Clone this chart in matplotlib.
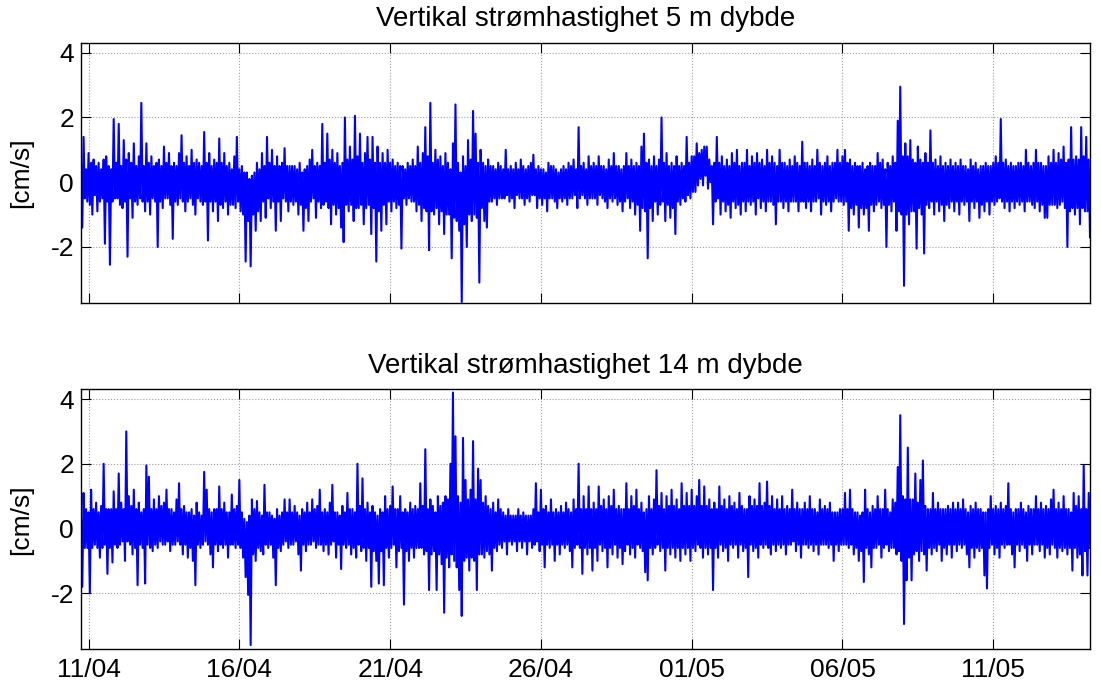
import numpy as np
import pandas as pd
import matplotlib
matplotlib.use('Agg')
import matplotlib.pyplot as plt
import matplotlib.dates as mdates

matplotlib.rcParams['font.family'] = ['Liberation Sans', 'DejaVu Sans']
matplotlib.rcParams['font.size'] = 19
matplotlib.rcParams['axes.unicode_minus'] = False

# vertikal strømhastighet [cm/s], timesverdier fra 10/04 18:00 (en rad = ett døgn)
v5 = [
    0.5, -1.4, 1.4, -0.5, 0.4, -0.6, 0.9, -0.7, 0.6, -1.0, 0.7, -0.4, 0.5, -0.9, 0.6, -0.6, 0.4, -0.5, 0.7, -1.9, 0.8, -0.6, 0.5, -2.55,
    0.4, -0.6, 1.95, -0.5, 0.6, -0.5, 1.8, -0.7, 0.5, -0.8, 1.3, -0.6, 0.7, -2.3, 0.9, -0.5, 0.6, -1.1, 1.2, -0.6, 0.5, -0.7, 0.8, -0.5,
    2.45, -0.6, 0.5, -0.9, 1.2, -0.6, 0.6, -1.0, 0.8, -0.5, 0.5, -0.6, 0.6, -2.0, 0.7, -0.6, 0.5, -0.8, 1.1, -0.5, 0.6, -0.5, 0.9, -0.7,
    0.5, -1.75, 0.6, -0.6, 0.5, -0.7, 0.9, -0.5, 1.45, -0.6, 0.6, -0.9, 0.8, -0.6, 0.5, -0.5, 1.0, -0.7, 0.6, -1.0, 0.7, -0.5, 0.6, -0.6,
    0.5, -0.7, 1.55, -0.6, 0.6, -1.8, 0.9, -0.6, 0.5, -0.9, 0.7, -0.6, 0.6, -1.2, 1.35, -0.7, 0.6, -0.8, 0.9, -0.6, 0.5, -1.0, 0.6, -0.7,
    0.4, -0.7, 0.8, -0.8, 1.4, -0.6, 0.4, -0.9, 0.5, -1.0, 0.3, -2.45, 0.3, -1.2, 0.1, -2.6, 0.2, -1.0, 0.3, -1.5, 0.6, -0.9, 0.4, -1.2,
    0.9, -0.6, 0.5, -1.1, 1.4, -0.5, 0.6, -0.8, 1.0, -0.6, 0.5, -1.5, 0.8, -0.6, 0.5, -1.2, 0.6, -0.5, 1.05, -0.6, 0.5, -0.9, 0.5, -0.6,
    0.5, -0.7, 0.5, -0.6, 0.4, -1.0, 0.6, -0.7, 0.3, -1.5, 0.4, -0.8, 0.5, -1.2, 0.7, -0.6, 1.0, -0.5, 0.5, -1.1, 0.6, -0.6, 0.5, -0.8,
    1.8, -0.7, 0.6, -0.6, 1.5, -0.8, 0.7, -1.3, 1.0, -0.7, 0.6, -1.0, 0.9, -0.8, 0.5, -1.4, 0.6, -1.85, 2.0, -0.7, 0.7, -0.9, 1.1, -0.7,
    0.7, -1.2, 2.05, -0.8, 0.8, -0.8, 1.5, -0.7, 0.6, -1.3, 0.9, -0.8, 1.4, -0.7, 0.7, -1.6, 1.4, -0.8, 0.6, -2.45, 1.1, -0.9, 0.6, -1.5,
    0.9, -0.7, 0.6, -1.3, 1.0, -0.6, 0.6, -0.9, 0.7, -0.6, 0.5, -0.8, 0.6, -0.7, 0.5, -2.05, 0.5, -0.5, 0.4, -0.7, 0.6, -0.5, 0.5, -0.6,
    0.7, -0.6, 0.5, -0.9, 1.1, -0.7, 0.6, -1.2, 0.9, -0.8, 1.7, -0.9, 0.8, -2.1, 2.45, -0.9, 0.6, -1.0, 1.0, -0.8, 0.7, -1.3, 0.8, -0.9,
    0.5, -1.6, 0.9, -1.0, 0.6, -1.0, 0.4, -2.35, 1.2, -1.1, 2.4, -1.2, 0.6, -1.5, 0.3, -3.7, 0.8, -1.3, 0.5, -2.0, 1.3, -1.0, 0.7, -1.2,
    2.2, -1.0, 1.5, -1.1, 0.6, -3.1, 1.0, -0.8, 0.6, -1.2, 0.5, -1.4, 0.7, -0.6, 0.5, -0.6, 0.5, -0.5, 0.4, -0.7, 0.6, -0.5, 0.5, -0.5,
    0.4, -0.5, 1.0, -0.4, 0.4, -0.6, 0.5, -0.5, 0.4, -0.8, 0.6, -0.4, 0.4, -0.5, 0.7, -0.5, 0.5, -0.7, 0.4, -0.5, 0.5, -0.6, 0.6, -0.4,
    0.85, -0.4, 0.4, -0.8, 0.5, -0.5, 0.4, -0.7, 0.4, -0.5, 0.3, -0.9, 0.6, -0.5, 0.5, -0.5, 0.5, -0.6, 0.4, -0.8, 0.3, -0.5, 0.4, -0.6,
    0.5, -0.5, 0.4, -0.7, 0.6, -0.5, 0.5, -0.5, 0.7, -0.4, 0.4, -0.8, 1.7, -0.5, 0.5, -0.4, 0.6, -0.5, 0.4, -0.7, 0.8, -0.5, 0.5, -0.5,
    0.6, -0.5, 0.5, -0.7, 0.8, -0.4, 0.5, -0.5, 0.5, -0.6, 0.4, -0.8, 0.7, -0.5, 0.5, -0.6, 0.9, -0.5, 0.5, -0.7, 0.5, -0.6, 0.4, -0.9,
    0.5, -0.6, 0.9, -0.5, 0.5, -0.8, 0.7, -0.6, 0.5, -1.0, 0.6, -0.7, 0.5, -1.5, 1.1, -0.8, 1.5, -0.9, 0.6, -2.35, 0.7, -0.8, 0.5, -1.2,
    0.8, -0.6, 0.5, -1.0, 0.7, -0.7, 2.0, -0.6, 0.6, -1.2, 0.9, -0.7, 0.5, -1.1, 0.6, -0.8, 0.5, -1.6, 0.8, -0.6, 0.5, -0.7, 0.6, -0.5,
    0.5, -0.6, 1.4, -0.4, 0.6, -0.5, 0.8, -0.3, 0.8, -0.3, 1.2, -0.1, 0.9, 0.1, 1.0, -0.1, 1.1, 0.2, 1.1, -0.2, 0.7, 0.0, 0.5, -1.3,
    0.6, -0.6, 1.4, -0.5, 0.6, -1.0, 0.8, -0.6, 0.5, -0.9, 0.7, -0.7, 0.5, -1.1, 0.9, -0.6, 0.6, -0.8, 1.0, -0.7, 0.5, -1.0, 0.6, -0.6,
    0.6, -0.9, 1.0, -0.6, 0.5, -0.7, 0.8, -0.6, 0.6, -1.0, 0.9, -0.5, 0.6, -0.8, 0.7, -0.6, 0.5, -0.9, 1.0, -0.6, 0.6, -0.6, 0.8, -0.7,
    0.6, -1.3, 0.5, -0.6, 1.0, -0.6, 0.6, -0.8, 0.6, -0.6, 0.5, -0.9, 0.7, -0.6, 0.5, -0.6, 0.8, -0.6, 0.6, -0.9, 0.5, -0.6, 1.25, -0.6,
    0.6, -0.8, 0.6, -0.6, 0.5, -0.9, 0.7, -0.6, 0.5, -0.6, 1.0, -0.5, 0.6, -1.0, 0.5, -0.6, 0.6, -0.7, 0.8, -0.6, 0.5, -0.9, 0.6, -0.6,
    0.6, -0.5, 1.0, -0.6, 0.6, -0.6, 0.8, -0.7, 1.0, -0.6, 0.6, -1.5, 0.7, -0.8, 0.5, -1.0, 0.6, -0.7, 0.5, -1.4, 0.5, -0.8, 0.6, -1.0,
    0.4, -0.8, 0.5, -1.5, 0.6, -0.7, 0.5, -0.9, 0.5, -0.7, 0.9, -0.6, 0.6, -0.8, 0.7, -0.7, 0.4, -2.0, 0.6, -0.7, 0.5, -0.9, 0.8, -0.6,
    0.6, -1.5, 1.9, -0.9, 2.95, -1.0, 0.8, -3.2, 1.2, -1.0, 0.8, -1.3, 1.3, -0.9, 0.7, -0.9, 0.6, -2.05, 1.1, -0.8, 0.7, -1.0, 0.6, -2.2,
    0.9, -0.7, 0.6, -0.8, 1.6, -0.6, 0.6, -1.0, 0.7, -0.6, 0.5, -0.9, 0.8, -0.7, 0.5, -1.2, 0.6, -0.7, 0.5, -0.8, 0.7, -0.6, 0.5, -0.9,
    0.6, -0.6, 0.5, -1.0, 0.7, -0.6, 0.5, -0.7, 0.5, -0.6, 0.4, -1.2, 0.7, -0.6, 0.5, -0.8, 0.6, -0.6, 0.4, -1.1, 0.5, -0.7, 0.5, -0.9,
    0.6, -0.6, 0.5, -1.0, 0.5, -0.6, 0.6, -0.7, 0.8, -0.6, 0.6, -0.5, 1.95, -0.6, 0.6, -0.8, 0.7, -0.6, 0.5, -0.9, 0.6, -0.6, 0.5, -0.8,
    0.5, -0.6, 0.6, -0.7, 0.6, -0.6, 0.5, -0.9, 1.0, -0.6, 0.6, -0.6, 0.5, -0.7, 0.6, -0.8, 1.0, -0.6, 0.6, -0.9, 0.6, -0.7, 0.5, -1.1,
    0.5, -1.1, 0.8, -0.7, 0.6, -0.7, 1.0, -0.7, 0.6, -0.8, 0.9, -0.7, 0.7, -0.6, 1.1, -0.8, 0.6, -2.0, 0.7, -0.9, 1.7, -0.8, 0.7, -1.0,
    0.8, -0.8, 0.7, -1.3, 1.7, -0.8, 0.8, -0.9, 1.4, -0.9, 0.7, -1.7,
]

v14 = [
    0.3, -1.8, 1.1, -0.6, 0.6, -0.6, 0.5, -2.0, 1.2, -0.6, 0.6, -0.5, 0.8, -0.6, 0.5, -0.9, 0.7, -0.6, 2.0, -0.5, 0.6, -1.4, 0.6, -0.6,
    0.6, -1.05, 1.15, -0.5, 0.6, -0.6, 1.7, -0.5, 0.8, -0.4, 0.6, -1.0, 3.0, -0.4, 1.0, -0.5, 0.7, -0.8, 1.2, -0.6, 0.6, -1.75, 0.8, -0.5,
    0.5, -0.6, 0.6, -1.7, 1.95, -0.5, 1.6, -0.6, 0.6, -0.7, 0.9, -0.5, 0.6, -0.6, 1.0, -0.4, 0.7, -0.5, 0.8, -0.5, 1.2, -0.4, 0.6, -0.7,
    0.6, -0.5, 0.5, -0.5, 0.9, -0.4, 1.4, -0.5, 0.6, -0.8, 0.7, -0.5, 0.5, -0.9, 0.5, -0.6, 0.6, -1.0, 0.4, -1.75, 0.8, -0.5, 0.5, -0.6,
    0.4, -0.5, 1.75, -0.4, 1.2, -0.5, 0.6, -0.8, 0.5, -1.2, 0.6, -0.5, 0.6, -0.7, 1.3, -0.5, 0.6, -0.6, 0.8, -0.5, 0.5, -0.9, 0.5, -0.5,
    1.05, -0.5, 0.6, -0.6, 0.7, -0.5, 1.5, -0.6, 0.5, -0.9, 0.3, -1.5, 0.2, -2.05, 0.4, -3.6, 0.9, -0.8, 0.6, -1.0, 0.85, -0.6, 0.5, -0.7,
    0.4, -0.8, 1.35, -0.5, 0.5, -0.6, 0.5, -0.5, 0.4, -0.9, 0.3, -1.75, 0.6, -0.6, 0.4, -0.7, 0.5, -0.5, 0.9, -0.4, 0.5, -0.6, 0.9, -0.5,
    0.5, -0.5, 0.7, -0.4, 0.5, -0.8, 0.4, -1.3, 0.6, -0.5, 0.5, -0.7, 0.8, -0.5, 0.5, -0.5, 0.9, -0.4, 0.6, -0.6, 0.7, -0.5, 1.2, -0.5,
    0.5, -0.7, 0.6, -0.5, 0.5, -0.8, 0.8, -0.5, 1.35, -0.4, 0.5, -0.9, 0.5, -0.5, 0.4, -1.25, 0.7, -0.5, 0.5, -0.6, 1.1, -0.5, 0.6, -0.8,
    0.6, -0.6, 0.5, -0.9, 2.0, -0.5, 0.7, -0.7, 1.55, -0.6, 0.6, -1.0, 0.8, -0.6, 0.5, -1.8, 0.7, -0.7, 0.5, -1.0, 0.4, -1.7, 0.6, -0.7,
    0.5, -1.75, 1.0, -0.6, 0.6, -0.9, 0.7, -0.6, 1.3, -0.5, 0.6, -1.2, 0.6, -0.7, 1.0, -0.6, 0.5, -2.35, 0.6, -0.7, 0.5, -1.0, 0.8, -0.6,
    0.6, -0.9, 0.7, -0.6, 0.6, -0.6, 1.4, -0.6, 0.7, -0.8, 2.45, -0.7, 0.6, -1.9, 0.9, -0.8, 0.7, -0.7, 0.5, -1.9, 1.0, -0.8, 0.7, -1.1,
    0.8, -2.6, 1.0, -0.9, 0.9, -1.2, 2.0, -0.8, 4.2, -1.0, 2.85, -1.2, 1.0, -1.9, 0.8, -2.7, 2.8, -1.0, 1.5, -0.9, 0.9, -1.3, 1.2, -0.9,
    2.7, -1.0, 0.9, -1.9, 1.85, -0.8, 1.5, -0.8, 0.8, -0.9, 1.0, -0.7, 0.7, -0.8, 0.6, -1.3, 0.8, -0.6, 0.5, -0.7, 0.9, -0.5, 0.6, -0.6,
    0.5, -0.4, 0.4, -0.8, 0.6, -0.4, 0.4, -0.5, 0.4, -0.4, 0.4, -0.7, 0.6, -0.4, 0.4, -0.6, 0.5, -0.4, 0.4, -0.8, 0.4, -0.4, 0.4, -0.6,
    0.6, -0.5, 1.4, -0.4, 0.5, -0.7, 1.2, -0.5, 0.6, -1.2, 0.7, -0.5, 0.5, -0.6, 0.9, -0.5, 0.5, -1.0, 0.6, -0.5, 0.5, -0.8, 0.7, -0.5,
    0.5, -0.6, 0.8, -0.5, 0.6, -0.7, 0.5, -1.2, 0.9, -0.6, 0.6, -0.5, 2.0, -0.6, 0.6, -1.4, 1.0, -0.6, 0.6, -0.8, 1.3, -0.6, 0.6, -1.3,
    0.8, -0.6, 0.6, -1.0, 1.3, -0.5, 0.7, -0.7, 0.9, -0.6, 0.6, -1.2, 1.0, -0.6, 0.7, -0.8, 1.2, -0.5, 0.6, -0.9, 0.7, -0.6, 0.6, -1.1,
    0.6, -0.7, 1.4, -0.5, 0.6, -0.8, 1.0, -0.6, 0.7, -0.9, 1.2, -0.5, 0.6, -0.6, 0.8, -0.7, 0.5, -1.35, 0.6, -1.6, 1.0, -0.6, 0.6, -0.8,
    0.9, -0.6, 1.8, -0.5, 0.7, -0.7, 1.1, -0.6, 0.6, -1.3, 1.0, -0.6, 0.7, -0.8, 1.2, -0.6, 0.7, -0.9, 0.9, -0.6, 0.6, -1.0, 1.4, -0.6,
    0.7, -0.8, 1.1, -0.6, 0.7, -1.0, 1.2, -0.6, 0.7, -0.7, 1.0, -0.5, 1.5, -0.6, 0.7, -0.9, 1.3, -0.6, 0.7, -0.8, 0.9, -0.6, 0.6, -1.9,
    0.8, -0.6, 0.6, -0.9, 1.3, -0.5, 0.7, -0.7, 0.9, -0.6, 0.6, -1.0, 1.0, -0.5, 0.7, -0.6, 0.8, -0.5, 0.6, -0.9, 1.1, -0.5, 0.7, -0.7,
    0.6, -0.6, 0.6, -1.5, 1.0, -0.5, 0.7, -0.7, 0.9, -0.6, 0.7, -0.9, 1.4, -0.5, 0.7, -0.6, 0.8, -0.5, 1.45, -0.6, 0.7, -0.8, 1.0, -0.5,
    0.6, -0.7, 0.9, -0.5, 0.6, -0.6, 1.0, -0.5, 0.6, -0.8, 0.7, -0.5, 0.6, -0.5, 1.2, -0.4, 0.6, -0.7, 0.8, -0.5, 0.6, -0.9, 0.6, -0.5,
    0.8, -0.5, 0.6, -0.6, 1.0, -0.5, 0.6, -0.7, 0.6, -0.5, 0.5, -0.8, 0.9, -0.5, 0.6, -0.5, 0.7, -0.5, 0.6, -0.6, 0.8, -0.5, 0.5, -1.0,
    0.5, -0.5, 0.5, -0.7, 0.6, -0.5, 0.6, -0.5, 1.1, -0.5, 0.6, -0.6, 1.2, -0.5, 0.6, -0.8, 0.5, -0.6, 0.5, -1.0, 0.4, -0.7, 0.5, -1.65,
    1.2, -0.6, 0.6, -0.8, 0.5, -1.2, 0.7, -0.6, 0.6, -0.6, 1.0, -0.5, 0.6, -0.9, 0.6, -0.6, 1.2, -0.5, 0.6, -0.7, 0.5, -0.6, 0.9, -0.6,
    0.8, -0.8, 1.9, -0.7, 3.5, -1.0, 1.0, -2.95, 0.9, -1.6, 2.5, -0.9, 0.9, -1.6, 0.9, -0.8, 1.7, -0.7, 0.8, -1.0, 1.5, -0.7, 2.1, -0.8,
    0.7, -1.3, 0.6, -0.6, 0.6, -0.8, 1.1, -0.6, 0.6, -0.7, 0.8, -0.5, 0.6, -1.0, 0.6, -0.6, 0.6, -0.8, 0.7, -0.5, 0.6, -0.9, 0.8, -0.5,
    0.6, -0.7, 0.8, -0.5, 0.6, -0.6, 0.9, -0.5, 0.6, -0.8, 0.5, -1.2, 0.7, -0.6, 0.6, -0.9, 0.8, -0.6, 0.6, -0.7, 0.6, -0.6, 0.5, -1.45,
    0.5, -1.85, 0.6, -0.6, 1.0, -0.5, 0.6, -0.8, 0.7, -0.6, 0.6, -0.9, 0.8, -0.5, 0.6, -0.6, 0.7, -0.5, 1.4, -0.5, 0.6, -0.8, 0.5, -1.2,
    0.6, -0.5, 0.6, -0.7, 0.8, -0.5, 0.6, -0.6, 0.5, -1.0, 0.7, -0.5, 0.6, -0.8, 0.6, -0.5, 1.0, -0.5, 0.6, -0.7, 0.8, -0.5, 0.6, -0.9,
    0.7, -0.6, 0.6, -0.8, 0.9, -0.5, 1.2, -0.6, 0.6, -0.9, 0.8, -0.6, 0.6, -0.7, 1.0, -0.6, 0.6, -0.8, 0.6, -0.6, 0.5, -1.3, 1.1, -0.6,
    0.7, -0.9, 1.0, -0.8, 0.6, -1.45, 1.95, -0.7, 0.6, -1.45, 1.1, -0.6,
]

titles = ['Vertikal strømhastighet 5 m dybde', 'Vertikal strømhastighet 14 m dybde']
tick_dates = ['2011-04-11', '2011-04-16', '2011-04-21', '2011-04-26',
              '2011-05-01', '2011-05-06', '2011-05-11']
ticks = pd.to_datetime(tick_dates)

fig = plt.figure(figsize=(11.01, 6.93), dpi=100)
ax1 = fig.add_axes([0.0736, 0.5628, 0.9164, 0.3752])
ax2 = fig.add_axes([0.0736, 0.0631, 0.9164, 0.3751])

t5 = pd.date_range('2011-04-10 18:00', periods=len(v5), freq='h')

for ax, v, title in zip([ax1, ax2], [v5, v14], titles):
    t = pd.date_range('2011-04-10 18:00', periods=len(v), freq='h')
    ax.plot(t, v, color='#0000ff', lw=1.5)
    ax.set_xlim(t5[0], t5[-1])
    ax.set_ylim(-3.73, 4.3)
    ax.set_yticks([-2, 0, 2, 4])
    ax.set_xticks(ticks)
    ax.xaxis.set_major_formatter(mdates.DateFormatter('%d/%m'))
    ax.grid(True, linestyle=':', color='#a0a0a0', lw=0.8)
    ax.tick_params(direction='in', length=7, width=0.8, top=True, right=True)
    ax.tick_params(axis='x', pad=6.5)
    ax.tick_params(axis='y', pad=5)
    ax.set_title(title, pad=12, fontsize=20)
    ax.set_ylabel('[cm/s]')
    ax.yaxis.set_label_coords(-0.0476, 0.5)
    for s in ax.spines.values():
        s.set_linewidth(1.0)

ax1.tick_params(labelbottom=False)

fig.savefig('out.png', dpi=100)
